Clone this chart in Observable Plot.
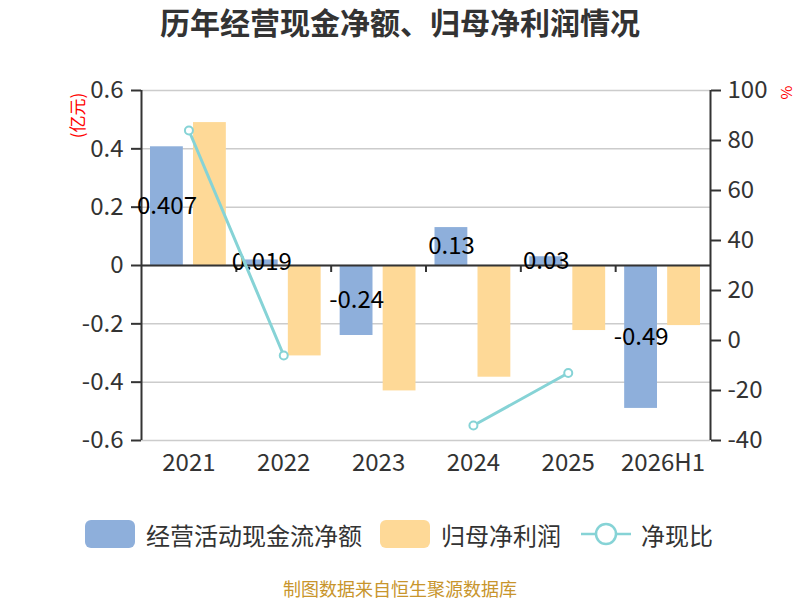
<!DOCTYPE html>
<html>
<head>
<meta charset="utf-8">
<script src="https://cdn.jsdelivr.net/npm/d3@7"></script>
<script src="https://cdn.jsdelivr.net/npm/@observablehq/plot@0.6"></script>
<style>
  html, body { margin: 0; padding: 0; background: #fff; }
  body { width: 800px; height: 600px; overflow: hidden; font-family: "Noto Sans CJK SC", "Noto Sans", sans-serif; position: relative; }
  #title { position: absolute; left: 0; top: 0; width: 800px; height: 50px; text-align: center; line-height: 42px; font-size: 30px; font-weight: bold; color: #333; }
  #chart { position: absolute; left: 0; top: 50px; }
  #legend { position: absolute; left: 0; top: 516px; width: 800px; height: 36px; }
  .item { position: absolute; top: 0; height: 36px; display: flex; align-items: center; font-size: 24px; color: #333; white-space: nowrap; }
  .sw { width: 50px; height: 28px; border-radius: 6px; margin-right: 11px; }
  #footer { position: absolute; left: 0; top: 577px; width: 800px; text-align: center; font-size: 18px; color: #c8952c; line-height: 22px; }
</style>
</head>
<body>
<div id="title">历年经营现金净额、归母净利润情况</div>
<div id="chart"></div>
<div id="legend"></div>
<div id="footer">制图数据来自恒生聚源数据库</div>
<script>
const years = ["2021", "2022", "2023", "2024", "2025", "2026H1"];
const cashFlow = [0.407, 0.019, -0.24, 0.13, 0.03, -0.49];
const netProfit = [0.49, -0.31, -0.43, -0.383, -0.223, -0.206];
const cashRatio = [84, -6, null, -34, -13, null];
const leftTicks = [-0.6, -0.4, -0.2, 0, 0.2, 0.4, 0.6];
const rightTicks = [-40, -20, 0, 20, 40, 60, 80, 100];
const seriesNames = ["经营活动现金流净额", "归母净利润", "净现比"];
const colors = ["#8eafdb", "#fed997", "#86d3d6"];

// right axis [-40, 100] shares the pixel range of left axis [-0.6, 0.6]
const toLeft = v => -0.6 + (v + 40) * 1.2 / 140;
const toRight = v => Math.round((v + 0.6) * 140 / 1.2 - 40);

const rows = years.map((year, i) => ({
  year, cash: cashFlow[i], profit: netProfit[i], ratio: cashRatio[i]
}));
const fmtL = d => String(+d.toFixed(1));
const W = 800, ML = 141, MR = 90;
const halfBand = (W - ML - MR) / years.length / 2;

const chart = Plot.plot({
  width: W,
  height: 440,
  marginTop: 40,
  marginBottom: 50,
  marginLeft: ML,
  marginRight: MR,
  style: { fontFamily: "'Noto Sans CJK SC', 'Noto Sans', sans-serif", fontSize: "24px", color: "#333", background: "white" },
  x: { domain: years, padding: 0, round: false, axis: null },
  y: { domain: [-0.6, 0.6], axis: null },
  marks: [
    Plot.ruleY(leftTicks, { stroke: "#cccccc", strokeWidth: 1.5 }),
    Plot.barY(rows, { x: "year", y: "cash", fill: colors[0], insetLeft: 9, insetRight: 53 }),
    Plot.barY(rows, { x: "year", y: "profit", fill: colors[1], insetLeft: 52, insetRight: 10 }),
    Plot.ruleY([0], { stroke: "#333", strokeWidth: 2 }),
    Plot.ruleX(years.slice(1), { x: d => d, y1: 0, y2: -0.024, stroke: "#333", strokeWidth: 2, dx: -halfBand }),
    Plot.ruleX([years[0]], { y1: -0.6, y2: 0.6, stroke: "#333", strokeWidth: 2, dx: -halfBand }),
    Plot.ruleX([years[years.length - 1]], { y1: -0.6, y2: 0.6, stroke: "#333", strokeWidth: 2, dx: halfBand }),
    Plot.axisY(leftTicks, { anchor: "left", tickSize: 10, tickPadding: 8, tickFormat: fmtL, fontSize: 24, strokeWidth: 2, color: "#333" }),
    Plot.axisY(rightTicks.map(toLeft), { anchor: "right", tickSize: 10, tickPadding: 7, tickFormat: toRight, fontSize: 24, strokeWidth: 2, color: "#333" }),
    Plot.axisX({ anchor: "bottom", tickSize: 0, tickPadding: 13, fontSize: 24, color: "#333", label: null }),
    Plot.text(["(亿元)"], { frameAnchor: "top-left", dx: -63, dy: 25, rotate: -90, textAnchor: "middle", lineAnchor: "middle", fill: "red", fontSize: 17 }),
    Plot.text(["%"], { frameAnchor: "top-right", dx: 77, dy: 2, rotate: -90, textAnchor: "middle", lineAnchor: "middle", fill: "red", fontSize: 15 }),
    Plot.text(rows, { x: "year", y: d => d.cash / 2, text: d => String(d.cash), dx: -halfBand + 9 + 16.5, fontSize: 24, fill: "#000" }),
    Plot.line(rows, { x: "year", y: d => d.ratio == null ? NaN : toLeft(d.ratio), stroke: colors[2], strokeWidth: 3 }),
    Plot.dot(rows.filter(d => d.ratio != null), { x: "year", y: d => toLeft(d.ratio), r: 4, fill: "white", stroke: colors[2], strokeWidth: 2 })
  ]
});
document.getElementById("chart").appendChild(chart);

// legend
const legend = document.getElementById("legend");
const pos = [85, 380, 581];
seriesNames.forEach((name, i) => {
  const item = document.createElement("div");
  item.className = "item";
  item.style.left = pos[i] + "px";
  if (i < 2) {
    const sw = document.createElement("div");
    sw.className = "sw";
    sw.style.background = colors[i];
    item.appendChild(sw);
  } else {
    const ns = "http://www.w3.org/2000/svg";
    const svg = document.createElementNS(ns, "svg");
    svg.setAttribute("width", 50); svg.setAttribute("height", 28);
    svg.style.marginRight = "10px";
    const l = document.createElementNS(ns, "line");
    l.setAttribute("x1", 0); l.setAttribute("x2", 50); l.setAttribute("y1", 14); l.setAttribute("y2", 14);
    l.setAttribute("stroke", colors[2]); l.setAttribute("stroke-width", 2.5);
    svg.appendChild(l);
    const c = document.createElementNS(ns, "circle");
    c.setAttribute("cx", 25); c.setAttribute("cy", 14); c.setAttribute("r", 10);
    c.setAttribute("fill", "white"); c.setAttribute("stroke", colors[2]); c.setAttribute("stroke-width", 2.5);
    svg.appendChild(c);
    item.appendChild(svg);
  }
  const t = document.createElement("span");
  t.textContent = name;
  item.appendChild(t);
  legend.appendChild(item);
});
</script>
</body>
</html>
